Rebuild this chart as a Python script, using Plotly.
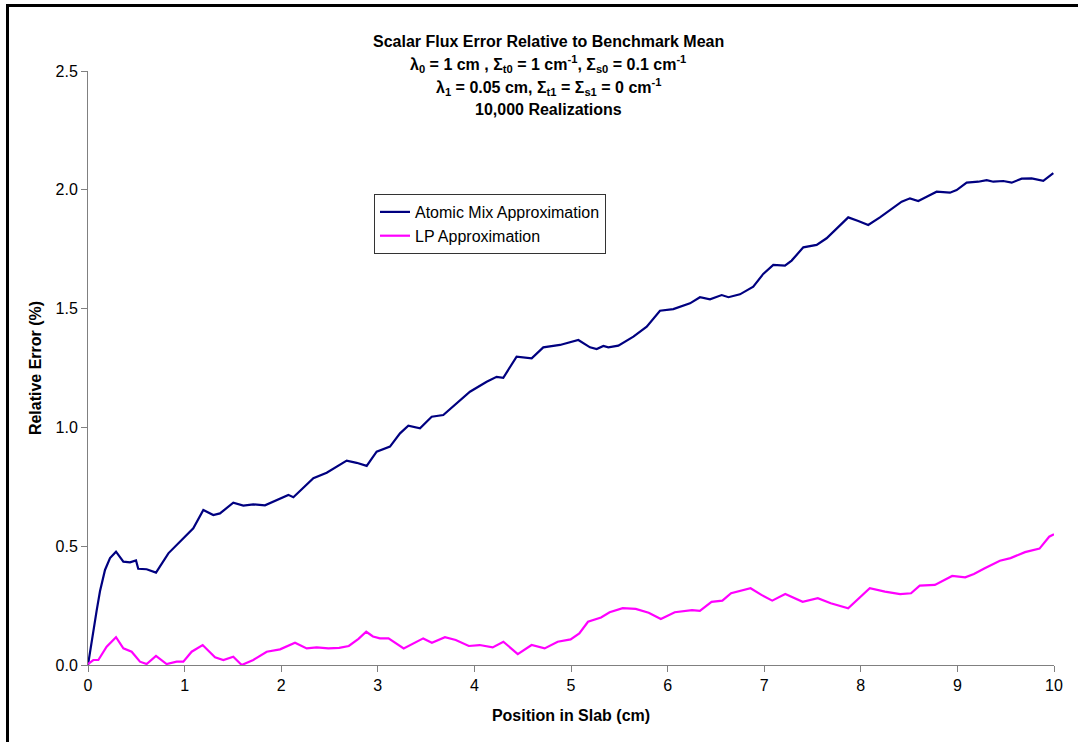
import plotly.graph_objects as go

# Atomic Mix Approximation (relative error %)
am_x = [0.0, 0.055, 0.09, 0.124, 0.176, 0.228, 0.29, 0.366, 0.435, 0.497, 0.52, 0.607, 0.704,
        0.832, 0.952, 1.056, 1.09, 1.194, 1.297, 1.366, 1.504, 1.608, 1.711, 1.832, 1.953,
        2.074, 2.126, 2.195, 2.333, 2.471, 2.574, 2.678, 2.781, 2.885, 2.988, 3.126, 3.23,
        3.316, 3.437, 3.558, 3.678, 3.851, 3.954, 4.127, 4.23, 4.299, 4.437, 4.593, 4.713,
        4.886, 5.076, 5.197, 5.266, 5.335, 5.387, 5.49, 5.646, 5.784, 5.921, 6.059, 6.232,
        6.335, 6.439, 6.56, 6.63, 6.749, 6.887, 6.99, 7.094, 7.215, 7.284, 7.405, 7.543,
        7.646, 7.75, 7.87, 7.974, 8.077, 8.198, 8.319, 8.423, 8.509, 8.595, 8.682, 8.785,
        8.923, 8.992, 9.096, 9.216, 9.303, 9.372, 9.475, 9.562, 9.665, 9.769, 9.889, 9.993]
am_y = [0.0, 0.147, 0.23, 0.31, 0.40, 0.45, 0.477, 0.435, 0.432, 0.44, 0.405, 0.403, 0.389,
        0.47, 0.519, 0.56, 0.575, 0.652, 0.631, 0.638, 0.683, 0.671, 0.676, 0.672, 0.694,
        0.716, 0.706, 0.734, 0.786, 0.809, 0.835, 0.86, 0.851, 0.838, 0.898, 0.919, 0.975,
        1.007, 0.996, 1.045, 1.052, 1.115, 1.15, 1.192, 1.213, 1.209, 1.298, 1.291, 1.337,
        1.347, 1.368, 1.337, 1.33, 1.343, 1.337, 1.344, 1.382, 1.424, 1.491, 1.498, 1.522,
        1.548, 1.539, 1.557, 1.548, 1.56, 1.592, 1.646, 1.684, 1.681, 1.702, 1.758, 1.768,
        1.796, 1.838, 1.884, 1.869, 1.852, 1.884, 1.918, 1.95, 1.964, 1.953, 1.971, 1.992,
        1.988, 1.999, 2.03, 2.034, 2.041, 2.034, 2.037, 2.03, 2.047, 2.048, 2.038, 2.07]

# LP Approximation (relative error %)
lp_x = [0.0, 0.055, 0.107, 0.193, 0.29, 0.366, 0.452, 0.538, 0.607, 0.704, 0.814, 0.918,
        0.987, 1.073, 1.187, 1.315, 1.401, 1.504, 1.591, 1.711, 1.85, 1.988, 2.143, 2.264,
        2.367, 2.488, 2.6, 2.7, 2.8, 2.88, 2.95, 3.022, 3.111, 3.268, 3.47, 3.56, 3.695,
        3.807, 3.942, 4.054, 4.189, 4.30, 4.449, 4.592, 4.727, 4.862, 4.996, 5.086, 5.176,
        5.311, 5.40, 5.535, 5.67, 5.804, 5.93, 6.074, 6.253, 6.334, 6.455, 6.567, 6.657,
        6.859, 6.971, 7.083, 7.218, 7.398, 7.555, 7.689, 7.869, 8.093, 8.25, 8.407, 8.52,
        8.61, 8.767, 8.946, 9.081, 9.171, 9.283, 9.44, 9.55, 9.7, 9.85, 9.95, 10.0]
lp_y = [0.004, 0.021, 0.021, 0.077, 0.117, 0.07, 0.056, 0.014, 0.004, 0.038, 0.004, 0.014,
        0.014, 0.056, 0.084, 0.032, 0.021, 0.035, 0.0, 0.021, 0.056, 0.066, 0.094, 0.07,
        0.074, 0.07, 0.072, 0.08, 0.11, 0.14, 0.12, 0.112, 0.112, 0.07, 0.112, 0.094, 0.117,
        0.105, 0.08, 0.084, 0.074, 0.098, 0.046, 0.084, 0.07, 0.098, 0.108, 0.133, 0.182,
        0.2, 0.222, 0.239, 0.236, 0.22, 0.194, 0.222, 0.231, 0.228, 0.266, 0.271, 0.302,
        0.323, 0.295, 0.271, 0.299, 0.266, 0.281, 0.26, 0.239, 0.323, 0.309, 0.298, 0.302,
        0.334, 0.337, 0.375, 0.369, 0.383, 0.407, 0.439, 0.45, 0.475, 0.49, 0.54, 0.55]

x_ticks = [0, 1, 2, 3, 4, 5, 6, 7, 8, 9, 10]
y_ticks = [0.0, 0.5, 1.0, 1.5, 2.0, 2.5]

title_lines = [
    "Scalar Flux Error Relative to Benchmark Mean",
    "λ<sub>0</sub> = 1 cm , Σ<sub>t0</sub> = 1 cm<sup>-1</sup>, Σ<sub>s0</sub> = 0.1 cm<sup>-1</sup>",
    "λ<sub>1</sub> = 0.05 cm, Σ<sub>t1</sub> = Σ<sub>s1</sub> = 0 cm<sup>-1</sup>",
    "10,000 Realizations",
]

FONT = "Liberation Sans, Arial, sans-serif"
FS = 16

fig = go.Figure()
fig.add_trace(go.Scatter(x=am_x, y=am_y, mode="lines", name="Atomic Mix Approximation",
                         line=dict(color="#000080", width=2.2)))
fig.add_trace(go.Scatter(x=lp_x, y=lp_y, mode="lines", name="LP Approximation",
                         line=dict(color="#FF00FF", width=2.2)))

W, H = 1078, 742
L, R, T, B = 88, 24, 71, 77
pw, ph = W - L - R, H - T - B

def px(xp):
    return (xp - L) / pw

def py(yp):
    return (H - B - yp) / ph

title_y_px = [42, 64, 87, 110]
annotations = []
for txt, yp in zip(title_lines, title_y_px):
    annotations.append(dict(text="<b>" + txt + "</b>", x=px(548), y=py(yp), xref="paper", yref="paper",
                            xanchor="center", yanchor="middle", showarrow=False,
                            font=dict(family=FONT, size=FS, color="black")))

fig.update_layout(
    width=W, height=H,
    margin=dict(l=L, r=R, t=T, b=B),
    paper_bgcolor="white", plot_bgcolor="white",
    font=dict(family=FONT, size=FS, color="black"),
    showlegend=True,
    legend=dict(x=px(374), y=py(194), xanchor="left", yanchor="top",
                bgcolor="white", bordercolor="#333333", borderwidth=1,
                font=dict(family=FONT, size=FS, color="black"),
                tracegroupgap=2, itemwidth=30),
    xaxis=dict(range=[0, 10], tickvals=x_ticks, ticktext=[str(v) for v in x_ticks],
               showgrid=False, zeroline=False, showline=True, linecolor="#808080", linewidth=1,
               ticks="outside", ticklen=6, tickcolor="#808080",
               tickfont=dict(family=FONT, size=FS, color="black"),
               title=dict(text="<b>Position in Slab (cm)</b>", font=dict(family=FONT, size=FS), standoff=16)),
    yaxis=dict(range=[0, 2.5], tickvals=y_ticks, ticktext=["%.1f" % v for v in y_ticks],
               showgrid=False, zeroline=False, showline=True, linecolor="#808080", linewidth=1,
               ticks="outside", ticklen=6, tickcolor="#808080",
               tickfont=dict(family=FONT, size=FS, color="black"),
               title=dict(text="<b>Relative Error (%)</b>", font=dict(family=FONT, size=FS), standoff=9)),
    annotations=annotations,
    shapes=[
        dict(type="line", xref="paper", yref="paper", x0=px(7.5), x1=px(7.5), y0=py(4), y1=py(745),
             line=dict(color="black", width=3)),
        dict(type="line", xref="paper", yref="paper", x0=px(6), x1=px(1080), y0=py(5.5), y1=py(5.5),
             line=dict(color="black", width=3)),
    ],
)

fig.write_html("out.html", config={"displayModeBar": False},
               post_script="document.body.style.margin='0';document.body.style.overflow='hidden';")
